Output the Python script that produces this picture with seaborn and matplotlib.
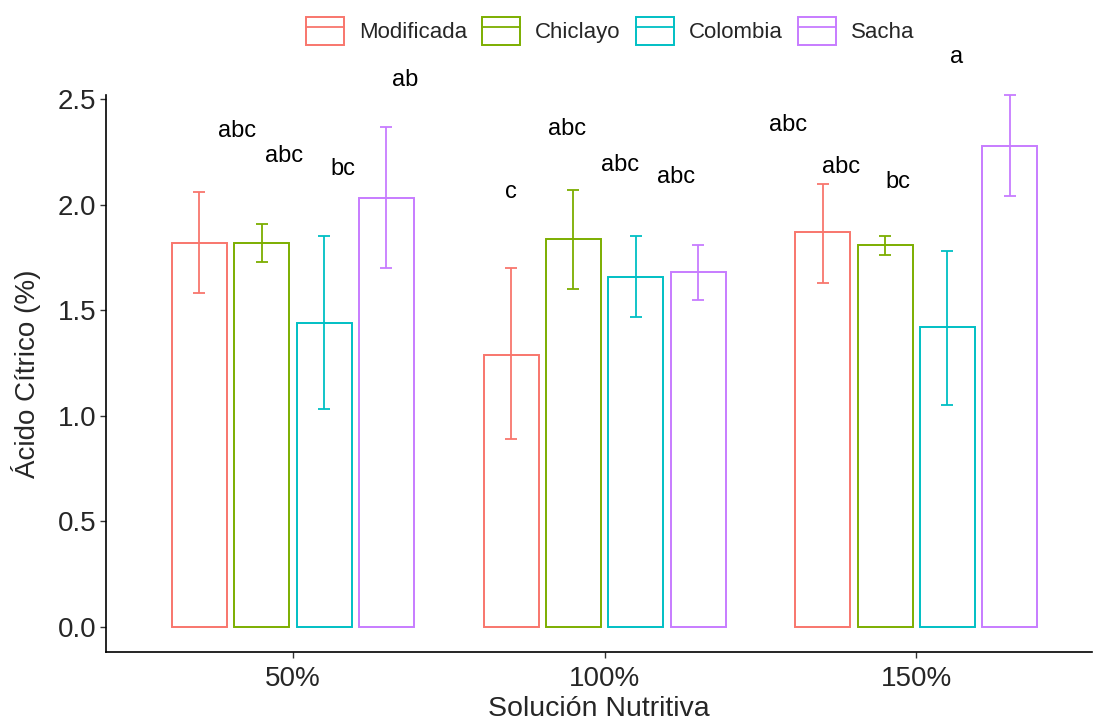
import matplotlib
matplotlib.use("Agg")
import matplotlib.pyplot as plt
from matplotlib.patches import Rectangle
from matplotlib.lines import Line2D
import seaborn as sns
import pandas as pd
import numpy as np

# ---- data ----
soluciones = ["50%", "100%", "150%"]
variedades = ["Modificada", "Chiclayo", "Colombia", "Sacha"]
colors = ["#F8766D", "#7CAE00", "#00BFC4", "#C77CFF"]

# mean values per variedad (order: 50%, 100%, 150%)
mean_modificada = [1.82, 1.29, 1.87]
mean_chiclayo = [1.82, 1.84, 1.81]
mean_colombia = [1.44, 1.66, 1.42]
mean_sacha = [2.03, 1.68, 2.28]

low_modificada = [1.58, 0.89, 1.63]
low_chiclayo = [1.73, 1.60, 1.76]
low_colombia = [1.03, 1.47, 1.05]
low_sacha = [1.70, 1.55, 2.04]

high_modificada = [2.06, 1.70, 2.10]
high_chiclayo = [1.91, 2.07, 1.85]
high_colombia = [1.85, 1.85, 1.78]
high_sacha = [2.37, 1.81, 2.52]

# significance letters (per solución, per variedad order)
letters_50 = ["abc", "abc", "bc", "ab"]
letters_100 = ["c", "abc", "abc", "abc"]
letters_150 = ["abc", "abc", "bc", "a"]
letter_y_50 = [2.35, 2.23, 2.17, 2.59]
letter_y_100 = [2.06, 2.36, 2.19, 2.13]
letter_y_150 = [2.38, 2.18, 2.11, 2.70]
letter_dx_50 = [-0.18, -0.03, 0.16, 0.36]
letter_dx_100 = [-0.30, -0.12, 0.05, 0.23]
letter_dx_150 = [-0.41, -0.24, -0.06, 0.13]

means = [mean_modificada, mean_chiclayo, mean_colombia, mean_sacha]
lows = [low_modificada, low_chiclayo, low_colombia, low_sacha]
highs = [high_modificada, high_chiclayo, high_colombia, high_sacha]

rows = []
for vi, v in enumerate(variedades):
    for si, s in enumerate(soluciones):
        rows.append({"Solucion": s, "Variedad": v, "valor": means[vi][si],
                     "low": lows[vi][si], "high": highs[vi][si]})
df = pd.DataFrame(rows)

# ---- style ----
sns.set_theme(style="ticks")
plt.rcParams["font.family"] = ["Liberation Sans", "DejaVu Sans"]

fig = plt.figure(figsize=(10.94, 7.24), dpi=100)
ax = fig.add_axes([106 / 1094, 1 - 652 / 724, (1092 - 106) / 1094, (652 - 95) / 724])

sns.barplot(data=df, x="Solucion", y="valor", hue="Variedad",
            order=soluciones, hue_order=variedades, palette=colors,
            fill=False, width=0.8, gap=0.12, errorbar=None,
            linewidth=1.4, legend=False, ax=ax)

# error bars at the dodged bar positions
nh = len(variedades)
for vi, v in enumerate(variedades):
    for si, s in enumerate(soluciones):
        xc = si + (vi - (nh - 1) / 2) * 0.8 / nh
        r = df[(df.Variedad == v) & (df.Solucion == s)].iloc[0]
        cont = ax.errorbar(xc, r.valor, yerr=[[r.valor - r.low], [r.high - r.valor]],
                           fmt="none", ecolor=colors[vi], elinewidth=1.3,
                           capsize=4.3, capthick=1.3, zorder=3)
        for art in list(cont.lines[1]) + list(cont.lines[2]):
            art.set_clip_on(False)

# letters
all_letters = [letters_50, letters_100, letters_150]
all_ly = [letter_y_50, letter_y_100, letter_y_150]
all_dx = [letter_dx_50, letter_dx_100, letter_dx_150]
for si in range(len(soluciones)):
    for vi in range(nh):
        ax.text(si + all_dx[si][vi], all_ly[si][vi], all_letters[si][vi],
                ha="center", va="center", fontsize=17, color="black",
                clip_on=False)

ax.set_xlim(-0.600, 2.564)
ax.set_ylim(-0.119, 2.52)
ax.set_yticks([0, 0.5, 1.0, 1.5, 2.0, 2.5])
ax.set_yticklabels(["0.0", "0.5", "1.0", "1.5", "2.0", "2.5"])
sns.despine(ax=ax)
for sp in ("left", "bottom"):
    ax.spines[sp].set_linewidth(1.2)
    ax.spines[sp].set_color("black")
ax.tick_params(axis="both", length=4, width=1.0, color="#333333",
               labelsize=20, labelcolor="#262626")
ax.tick_params(axis="x", pad=6)
ax.tick_params(axis="y", pad=3)
ax.set_xlabel("Solución Nutritiva", fontsize=20.5, color="#262626", labelpad=3)
ax.set_ylabel("Ácido Cítrico (%)", fontsize=20, color="#262626", labelpad=12)

# legend
handles = []
for c in colors:
    handles.append((Rectangle((0, 0), 1, 1, facecolor="none", edgecolor=c, linewidth=1.4),
                    Line2D([], [], color=c, linewidth=1.3)))
fig.legend(handles, variedades, loc="center", bbox_to_anchor=(610 / 1094, 1 - 31 / 724),
           ncol=4, frameon=False, fontsize=16, handlelength=1.71, handleheight=1.6,
           handletextpad=0.68, columnspacing=0.68, borderpad=0.2, labelcolor="#262626")

fig.savefig("out.png", dpi=100)
